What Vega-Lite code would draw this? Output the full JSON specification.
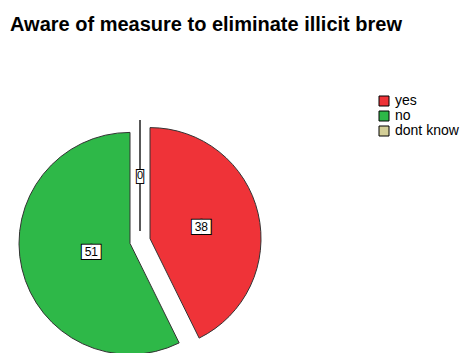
{
  "$schema": "https://vega.github.io/schema/vega-lite/v6.json",
  "width": 222,
  "height": 222,
  "autosize": "none",
  "padding": {"left": 29, "top": 130, "right": 211, "bottom": 1},
  "background": "white",
  "title": {
    "text": "Aware of measure to eliminate illicit brew",
    "anchor": "start",
    "frame": "group",
    "font": "Liberation Sans",
    "fontSize": 20,
    "fontWeight": "bold",
    "color": "#000000",
    "dx": -19,
    "offset": 43,
    "baseline": "alphabetic"
  },
  "config": {
    "view": {"stroke": null},
    "legend": {
      "orient": "none",
      "legendX": 348,
      "legendY": -36,
      "padding": 0,
      "symbolType": "square",
      "symbolSize": 100,
      "symbolStrokeColor": "#000000",
      "symbolStrokeWidth": 1,
      "symbolOpacity": 1,
      "labelFont": "Liberation Sans",
      "labelFontSize": 14,
      "labelColor": "#000000",
      "labelOffset": 4,
      "rowPadding": 1
    }
  },
  "data": {
    "values": [
      {"answer": "yes", "count": 38},
      {"answer": "no", "count": 51},
      {"answer": "dont know", "count": 0}
    ]
  },
  "transform": [
    {"stack": "count", "groupby": [], "sort": [{"field": "answer", "order": "descending"}], "as": ["t0", "t1"]}
  ],
  "layer": [
    {
      "transform": [{"filter": "datum.answer === 'yes'"}],
      "mark": {"type": "arc", "stroke": "#333333", "strokeWidth": 1, "xOffset": 10, "yOffset": -2.4},
      "encoding": {
        "theta": {"field": "t0", "type": "quantitative"},
        "theta2": {"field": "t1"},
        "color": {"field": "answer", "type": "nominal", "scale": {"domain": ["yes", "no", "dont know"], "range": ["#EF3338", "#2EB848", "#D3CE97"]}, "legend": {"title": null}}
      }
    },
    {
      "transform": [{"filter": "datum.answer === 'no'"}],
      "mark": {"type": "arc", "stroke": "#333333", "strokeWidth": 1, "xOffset": -10, "yOffset": 2.4},
      "encoding": {
        "theta": {"field": "t0", "type": "quantitative"},
        "theta2": {"field": "t1"},
        "color": {"field": "answer", "type": "nominal"}
      }
    },
    {
      "transform": [{"filter": "datum.answer === 'dont know'"}],
      "mark": {"type": "arc", "stroke": "#222222", "strokeWidth": 1.5, "xOffset": 0, "yOffset": -10},
      "encoding": {
        "theta": {"field": "t0", "type": "quantitative"},
        "theta2": {"field": "t1"},
        "color": {"field": "answer", "type": "nominal"}
      }
    },
    {
      "mark": {"type": "text", "radius": 63, "font": "DejaVu Sans", "fontSize": 12, "fill": "#000000", "stroke": "#000000", "strokeWidth": 2, "align": "center", "baseline": "middle"},
      "encoding": {
        "theta": {"field": "count", "type": "quantitative", "stack": true},
        "order": {"field": "answer", "sort": "descending"},
        "text": {"condition": {"test": "datum.answer === 'yes'", "value": "██"}, "value": ""}
      }
    },
    {
      "mark": {"type": "text", "radius": 63, "font": "DejaVu Sans", "fontSize": 12, "fill": "#FFFFFF", "align": "center", "baseline": "middle"},
      "encoding": {
        "theta": {"field": "count", "type": "quantitative", "stack": true},
        "order": {"field": "answer", "sort": "descending"},
        "text": {"condition": {"test": "datum.answer === 'yes'", "value": "██"}, "value": ""}
      }
    },
    {
      "mark": {"type": "text", "radius": 63, "font": "Liberation Sans", "fontSize": 12, "fill": "#000000", "align": "center", "baseline": "middle"},
      "encoding": {
        "theta": {"field": "count", "type": "quantitative", "stack": true},
        "order": {"field": "answer", "sort": "descending"},
        "text": {"condition": {"test": "datum.answer === 'yes'", "field": "count", "type": "quantitative"}, "value": ""}
      }
    },
    {
      "mark": {"type": "text", "radius": 50, "font": "DejaVu Sans", "fontSize": 12, "fill": "#000000", "stroke": "#000000", "strokeWidth": 2, "align": "center", "baseline": "middle"},
      "encoding": {
        "theta": {"field": "count", "type": "quantitative", "stack": true},
        "order": {"field": "answer", "sort": "descending"},
        "text": {"condition": {"test": "datum.answer === 'no'", "value": "██"}, "value": ""}
      }
    },
    {
      "mark": {"type": "text", "radius": 50, "font": "DejaVu Sans", "fontSize": 12, "fill": "#FFFFFF", "align": "center", "baseline": "middle"},
      "encoding": {
        "theta": {"field": "count", "type": "quantitative", "stack": true},
        "order": {"field": "answer", "sort": "descending"},
        "text": {"condition": {"test": "datum.answer === 'no'", "value": "██"}, "value": ""}
      }
    },
    {
      "mark": {"type": "text", "radius": 50, "font": "Liberation Sans", "fontSize": 12, "fill": "#000000", "align": "center", "baseline": "middle"},
      "encoding": {
        "theta": {"field": "count", "type": "quantitative", "stack": true},
        "order": {"field": "answer", "sort": "descending"},
        "text": {"condition": {"test": "datum.answer === 'no'", "field": "count", "type": "quantitative"}, "value": ""}
      }
    },
    {
      "mark": {"type": "text", "radius": 65, "font": "DejaVu Sans", "fontSize": 17, "fill": "#000000", "stroke": "#000000", "strokeWidth": 2, "align": "center", "baseline": "middle"},
      "encoding": {
        "theta": {"field": "count", "type": "quantitative", "stack": true},
        "order": {"field": "answer", "sort": "descending"},
        "text": {"condition": {"test": "datum.answer === 'dont know'", "value": "▮"}, "value": ""}
      }
    },
    {
      "mark": {"type": "text", "radius": 65, "font": "DejaVu Sans", "fontSize": 17, "fill": "#FFFFFF", "align": "center", "baseline": "middle"},
      "encoding": {
        "theta": {"field": "count", "type": "quantitative", "stack": true},
        "order": {"field": "answer", "sort": "descending"},
        "text": {"condition": {"test": "datum.answer === 'dont know'", "value": "▮"}, "value": ""}
      }
    },
    {
      "mark": {"type": "text", "radius": 65, "font": "Liberation Sans", "fontSize": 11, "fill": "#000000", "align": "center", "baseline": "middle"},
      "encoding": {
        "theta": {"field": "count", "type": "quantitative", "stack": true},
        "order": {"field": "answer", "sort": "descending"},
        "text": {"condition": {"test": "datum.answer === 'dont know'", "field": "count", "type": "quantitative"}, "value": ""}
      }
    }
  ]
}
